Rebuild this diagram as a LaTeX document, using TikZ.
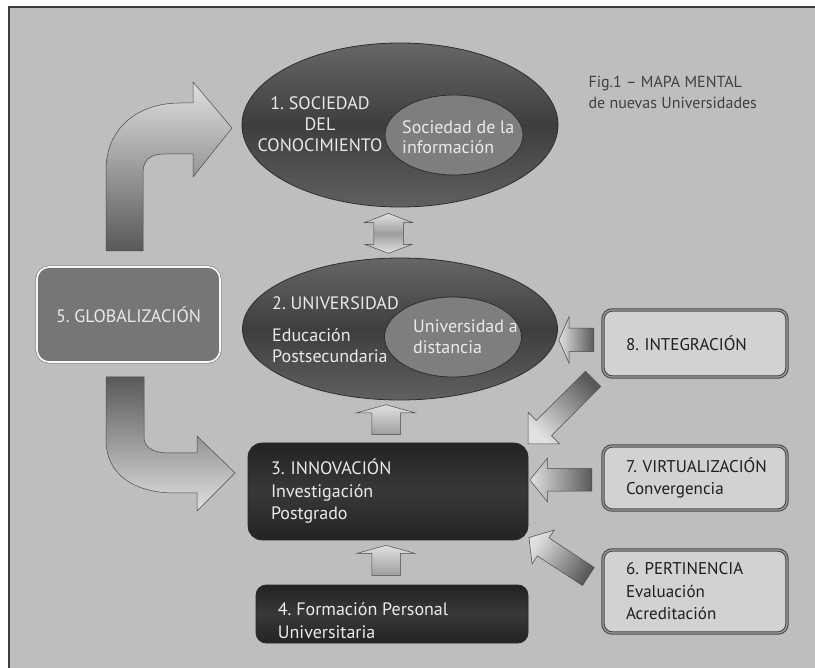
\documentclass[tikz,border=0pt]{standalone}
\usepackage{fontspec}
\setmainfont{PT Sans}
\usetikzlibrary{shapes.geometric,shapes.arrows,calc}

\definecolor{bggray}{HTML}{BEBEBE}
\definecolor{framegray}{HTML}{3C3C3C}
\definecolor{ovaltop}{HTML}{666666}
\definecolor{ovalmid}{HTML}{3E3E3E}
\definecolor{ovalbot}{HTML}{606060}
\definecolor{ovaledge}{HTML}{2E2E2E}
\definecolor{innerfill}{HTML}{7E7E7E}
\definecolor{innodark}{HTML}{232323}
\definecolor{innomid}{HTML}{383838}
\definecolor{lightbox}{HTML}{D2D2D2}
\definecolor{globfill}{HTML}{767676}
\definecolor{arrowlight}{HTML}{E0E0E0}
\definecolor{arrowdark}{HTML}{595959}
\definecolor{arrowmid}{HTML}{9E9E9E}
\definecolor{arrowedge}{HTML}{4A4A4A}
\definecolor{paletext}{HTML}{EAEAEA}
\definecolor{inktext}{HTML}{1E1E1E}

\tikzset{
  bigoval/.style={ellipse, draw=ovaledge, line width=0.8pt, top color=ovaltop, bottom color=ovalbot, middle color=ovalmid, inner sep=0pt},
  smalloval/.style={ellipse, draw=ovaledge, line width=0.8pt, fill=innerfill, inner sep=0pt},
  ovaltext/.style={text=paletext, inner sep=0pt},
  innobox/.style={rectangle, rounded corners=14pt, draw=black!85, line width=0.6pt, top color=innodark, bottom color=innodark, middle color=innomid, text=paletext, align=left, inner xsep=23pt, inner ysep=0pt},
  sidebox/.style={rectangle, rounded corners=9pt, draw=black!72, double=gray!75, double distance=1.2pt, line width=1.1pt, fill=lightbox, text=inktext, align=left, inner xsep=23pt, minimum width=184pt, text width=138pt, font=\fontsize{17}{22.5}\selectfont},
  globbox/.style={rectangle, rounded corners=12pt, draw=gray!85!black, double=white!94!gray, double distance=1.8pt, line width=0.5pt, fill=globfill, text=paletext, minimum width=183pt, minimum height=95pt},
  flatarrow/.style={single arrow, draw=arrowedge, line width=0.5pt, inner xsep=0pt, top color=arrowlight, bottom color=arrowdark},
  uparrow/.style={single arrow, draw=arrowedge, line width=0.5pt, inner xsep=0pt, inner ysep=14pt, top color=arrowlight, bottom color=arrowmid, rotate=90, minimum height=30pt, single arrow head extend=15pt, single arrow tip angle=149},
  bendarrow/.style={draw=arrowedge, line width=0.5pt}
}

\begin{document}
\frenchspacing
\begin{tikzpicture}[x=1pt, y=-1pt, font=\fontsize{18}{22.5}\selectfont]
    \useasboundingbox (0,0) rectangle (815,668);
    \fill[white] (0,0) rectangle (815,668);
    \fill[bggray] (9,7) rectangle (815,668);
    \draw[framegray, line width=1.2pt] (9,668) -- (9,7) -- (815,7);

    % Ovals
    \node[bigoval, minimum width=316pt, minimum height=164pt] (soc) at (400,125) {};
    \node[smalloval, minimum width=138pt, minimum height=80pt] (info) at (454,135) {};
    \node[bigoval, minimum width=315pt, minimum height=142pt] (uni) at (400,329) {};
    \node[smalloval, minimum width=137pt, minimum height=80pt] (dist) at (453,337) {};

    \node[ovaltext, align=center, font=\fontsize{18}{21}\selectfont] (soct) at (320,124) {1. SOCIEDAD\\DEL\\CONOCIMIENTO};
    \node[ovaltext, align=left, anchor=west, font=\fontsize{18}{20}\selectfont] (infot) at (402,137) {Sociedad de la\\información};
    \node[ovaltext, anchor=west] (unit) at (272,303) {2. UNIVERSIDAD};
    \node[ovaltext, align=left, anchor=west, font=\fontsize{18}{21}\selectfont] (edut) at (272,345.5) {Educación\\Postsecundaria};
    \node[ovaltext, align=left, anchor=west, font=\fontsize{18}{21}\selectfont] (distt) at (413,336.5) {Universidad a\\distancia};

    % Boxes
    \node[globbox] (glob) at (128.5,314.5) {5. GLOBALIZACIÓN};
    \node[innobox, minimum width=280pt, minimum height=97pt, text width=234pt] (inno) at (388,491.5) {3. INNOVACIÓN\\Investigación\\Postgrado};
    \node[innobox, rounded corners=10pt, minimum width=272pt, minimum height=58pt, text width=226pt] (form) at (392,614) {};
    \node[ovaltext, align=left, anchor=west] (formt) at ($(form.west)+(22,6.5)$) {4. Formación Personal\\Universitaria};
    \node[sidebox, minimum height=67pt] (integ) at (695,343.5) {\mbox{8. INTEGRACIÓN}};
    \node[sidebox, minimum height=64pt] (virt) at (695,478) {\mbox{7. VIRTUALIZACIÓN}\\Convergencia};
    \node[sidebox, minimum height=83pt] (pert) at (695,591.5) {\mbox{6. PERTINENCIA}\\Evaluación\\Acreditación};

    \node[anchor=west, align=left, text=inktext!85, font=\fontsize{16}{21}\selectfont] (title) at (585,92.5) {Fig.1 – MAPA MENTAL\\de nuevas Universidades};

    % Block arrows
    \node[double arrow, draw=arrowedge, line width=0.5pt, inner xsep=0pt, inner ysep=14.5pt, rotate=90,
          top color=arrowlight, bottom color=arrowlight, middle color=arrowmid,
          minimum height=40pt, double arrow head extend=9pt,
          double arrow tip angle=138] (a12) at ($(soc.south)+(-11.5,26)$) {};
    \node[uparrow] (a32) at ($(inno.north)+(-2,-21)$) {};
    \node[uparrow] (a43) at ($(inno.south)+(-2,22)$) {};
    \node[flatarrow, rotate=180, shading angle=90, minimum height=35pt, inner ysep=11.5pt,
          single arrow head extend=11.5pt, single arrow tip angle=133] (a82) at ($(integ.west)+(-23.5,-3.5)$) {};
    \node[flatarrow, rotate=225, shading angle=135, minimum height=92pt, inner ysep=10.5pt,
          single arrow head extend=11.5pt, single arrow tip angle=90] (a83) at ($(integ.south west)+(-38,30)$) {};
    \node[flatarrow, rotate=180, shading angle=90, minimum height=62pt, inner ysep=11pt,
          single arrow head extend=10.5pt, single arrow tip angle=103] (a73) at ($(virt.west)+(-37,2)$) {};
    \node[flatarrow, rotate=146.8, shading angle=56.8, minimum height=71pt, inner ysep=10.5pt,
          single arrow head extend=9.5pt, single arrow tip angle=100] (a63) at ($(pert.west)+(-40,-32)$) {};

    % Bent arrows out of the globalization box
    \draw[bendarrow, top color=arrowlight, bottom color=arrowdark]
        (106,251) -- (106,170) .. controls (106,128) and (138,103) .. (180,103)
        -- (193,103) -- (193,82) -- (232,128) -- (193,177) -- (193,154) -- (165,154)
        .. controls (150,154) and (143,160) .. (143,173) -- (143,251) -- cycle;
    \draw[bendarrow, top color=arrowdark, bottom color=arrowlight]
        (106,377) -- (106,440) .. controls (106,475) and (135,493) .. (175,493)
        -- (197,493) -- (197,511) -- (235,473) -- (197,436) -- (197,453) -- (170,453)
        .. controls (152,453) and (144,447) .. (144,437) -- (144,377) -- cycle;

\end{tikzpicture}
\end{document}
